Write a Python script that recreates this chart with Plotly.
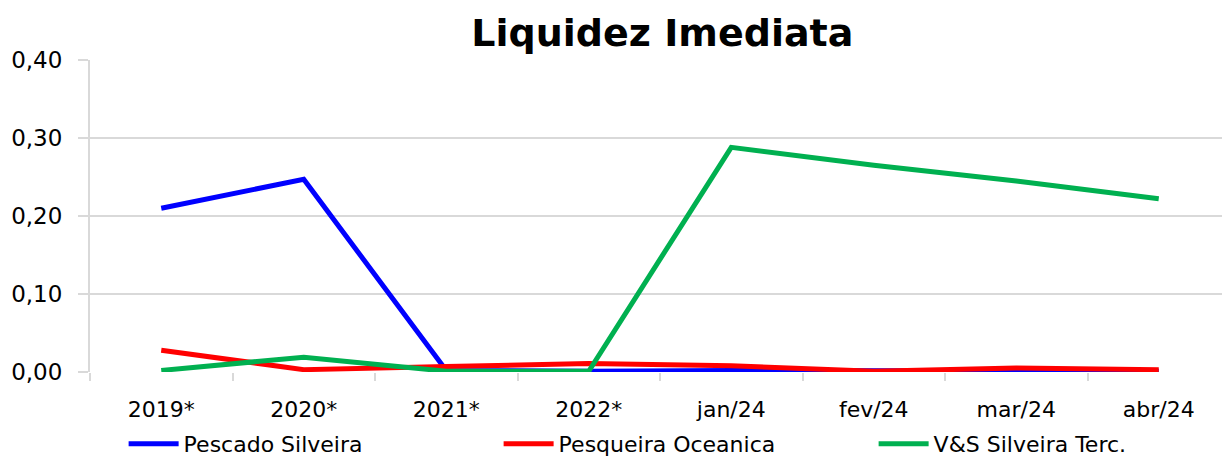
import plotly.graph_objects as go

# Dados do gráfico
periodos = ["2019*", "2020*", "2021*", "2022*", "jan/24", "fev/24", "mar/24", "abr/24"]
pescado_silveira = [0.210, 0.247, 0.002, 0.001, 0.002, 0.002, 0.002, 0.001]
pesqueira_oceanica = [0.028, 0.003, 0.007, 0.011, 0.008, 0.001, 0.005, 0.003]
vs_silveira = [0.002, 0.019, 0.001, 0.001, 0.288, 0.265, 0.245, 0.222]
y_ticks = [0.0, 0.1, 0.2, 0.3, 0.4]

fonte = "DejaVu Sans"
cinza = "#d9d9d9"

fig = go.Figure()
fig.add_trace(go.Scatter(x=periodos, y=pescado_silveira, mode="lines",
                         name="Pescado Silveira",
                         line=dict(color="#0000ff", width=5)))
fig.add_trace(go.Scatter(x=periodos, y=pesqueira_oceanica, mode="lines",
                         name="Pesqueira Oceanica",
                         line=dict(color="#ff0000", width=5)))
fig.add_trace(go.Scatter(x=periodos, y=vs_silveira, mode="lines",
                         name="V&S Silveira Terc.",
                         line=dict(color="#00b050", width=5)))

# a página tem 8px de margem no body: compensado nas margens
fig.update_layout(
    width=1230, height=457,
    separators=",.",
    paper_bgcolor="white", plot_bgcolor="white",
    margin=dict(l=82, r=8, t=52, b=93),
    title=dict(text="<b>Liquidez Imediata</b>", x=0.532, xanchor="center",
               y=0.946, yanchor="middle",
               font=dict(family=fonte, size=38, color="black")),
    font=dict(family=fonte, color="black"),
    xaxis=dict(
        type="category", showgrid=False, showline=False, zeroline=False,
        ticks="outside", tickson="boundaries", ticklen=8, tickcolor=cinza,
        tickwidth=2, tickfont=dict(size=22), ticklabelstandoff=22,
        range=[-0.5, 7.5], automargin=False,
    ),
    yaxis=dict(
        range=[0, 0.4], tickvals=y_ticks, tickformat=".2f",
        showgrid=True, gridcolor=cinza, gridwidth=2,
        showline=True, linecolor=cinza, linewidth=2,
        zeroline=False, ticks="outside", ticklen=10, tickcolor=cinza,
        tickwidth=2, tickfont=dict(size=23), ticklabelstandoff=11,
        automargin=False,
    ),
    legend=dict(orientation="h", x=0.094, xanchor="left",
                xref="container", yref="container", y=-0.028,
                yanchor="bottom", font=dict(size=22),
                itemwidth=50,
                entrywidth=310, entrywidthmode="pixels",
                tracegroupgap=0, bgcolor="rgba(0,0,0,0)"),
    showlegend=True,
)

fig.write_html("out.html")
